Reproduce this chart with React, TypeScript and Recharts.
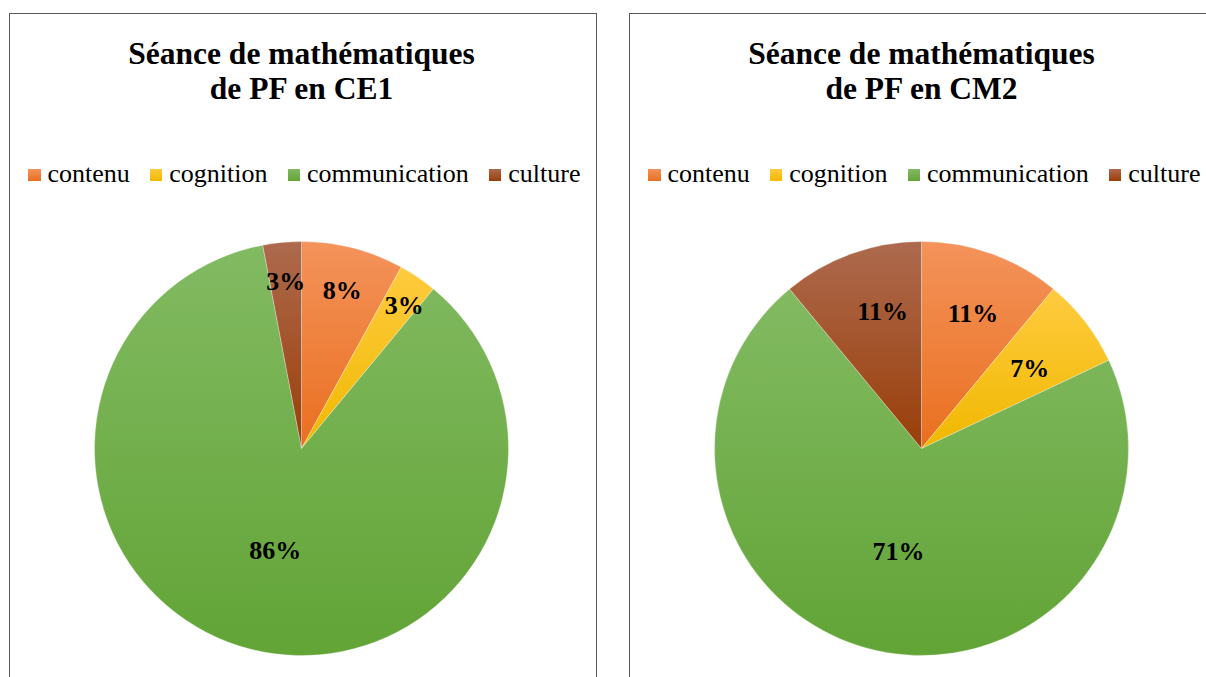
import React from "react";
import { PieChart, Pie, Cell } from "recharts";

const categories = ["contenu", "cognition", "communication", "culture"];
const ce1Values = [8, 3, 86, 3];
const cm2Values = [11, 7, 71, 11];
const chartTitles = [
  ["Séance de mathématiques", "de PF en CE1"],
  ["Séance de mathématiques", "de PF en CM2"],
];

const gradTop = ["#F4935B", "#FFCB3F", "#82BA62", "#AD6A4E"];
const gradBottom = ["#E96F1F", "#F0B800", "#62A436", "#9A3E08"];
// label placement (layout only): distance as share of radius, clockwise angle nudge in degrees
const labelDist = [
  [0.79, 0.85, 0.51, 0.81],
  [0.70, 0.65, 0.51, 0.69],
];
const labelNudge = [
  [0, 1.5, 0, 0],
  [1, 1.4, 0, 4],
];

const FONT = '"Liberation Serif", "Times New Roman", serif';
const RAD = Math.PI / 180;

function Panel({ idx, values, left }: { idx: number; values: number[]; left: number }) {
  const data = categories.map((name, i) => ({ name, value: values[i] }));
  const prefix = `g${idx}`;
  const renderLabel = (props: any) => {
    const { cx, cy, midAngle, outerRadius, percent, index } = props;
    const r = outerRadius * labelDist[idx][index];
    const a = midAngle - labelNudge[idx][index];
    const x = cx + r * Math.cos(-a * RAD);
    const y = cy + r * Math.sin(-a * RAD);
    return (
      <text
        x={x}
        y={y}
        textAnchor="middle"
        dominantBaseline="central"
        fill="#000"
        style={{ fontFamily: FONT, fontWeight: 700, fontSize: 26 }}
      >
        {`${Math.round(percent * 100)}%`}
      </text>
    );
  };
  return (
    <div
      style={{
        position: "absolute",
        left,
        top: 13,
        width: 588,
        height: 700,
        border: "1.5px solid #595959",
        boxSizing: "border-box",
        background: "#fff",
      }}
    >
      <div
        style={{
          position: "absolute",
          left: 0,
          top: 22,
          width: 583,
          textAlign: "center",
          fontFamily: FONT,
          fontWeight: 700,
          fontSize: 31.5,
          lineHeight: "35px",
          color: "#000",
        }}
      >
        <div>{chartTitles[idx][0]}</div>
        <div>{chartTitles[idx][1]}</div>
      </div>
      <div
        style={{
          position: "absolute",
          left: 18,
          top: 145,
          display: "flex",
          alignItems: "center",
          whiteSpace: "nowrap",
          fontFamily: FONT,
          fontSize: 26,
          lineHeight: "30px",
          color: "#000",
        }}
      >
        {categories.map((c, i) => (
          <div key={c} style={{ display: "flex", alignItems: "center", marginRight: 20 }}>
            <div
              style={{
                width: 12.5,
                height: 12.5,
                marginRight: 7,
                transform: "translateY(1px)",
                background: `linear-gradient(${gradTop[i]}, ${gradBottom[i]})`,
              }}
            />
            <span>{c}</span>
          </div>
        ))}
      </div>
      <div style={{ position: "absolute", left: 0, top: 0 }}>
        <PieChart width={585} height={680} margin={{ top: 0, right: 0, bottom: 0, left: 0 }}>
          <defs>
            {categories.map((c, i) => (
              <linearGradient key={c} id={`${prefix}-${i}`} x1="0" y1="0" x2="0" y2="1">
                <stop offset="0%" stopColor={gradTop[i]} />
                <stop offset="100%" stopColor={gradBottom[i]} />
              </linearGradient>
            ))}
          </defs>
          <Pie
            data={data}
            dataKey="value"
            nameKey="name"
            cx={291.5}
            cy={434.5}
            outerRadius={207}
            startAngle={90}
            endAngle={-270}
            isAnimationActive={false}
            label={renderLabel}
            labelLine={false}
            stroke="rgba(255,255,255,0.5)"
            strokeWidth={0.6}
          >
            {data.map((d, i) => (
              <Cell key={d.name} fill={`url(#${prefix}-${i})`} />
            ))}
          </Pie>
        </PieChart>
      </div>
    </div>
  );
}

export default function App() {
  return (
    <div
      style={{
        position: "fixed",
        left: 0,
        top: 0,
        width: 1206,
        height: 677,
        overflow: "hidden",
        background: "#fff",
      }}
    >
      <Panel idx={0} values={ce1Values} left={9} />
      <Panel idx={1} values={cm2Values} left={629} />
    </div>
  );
}
